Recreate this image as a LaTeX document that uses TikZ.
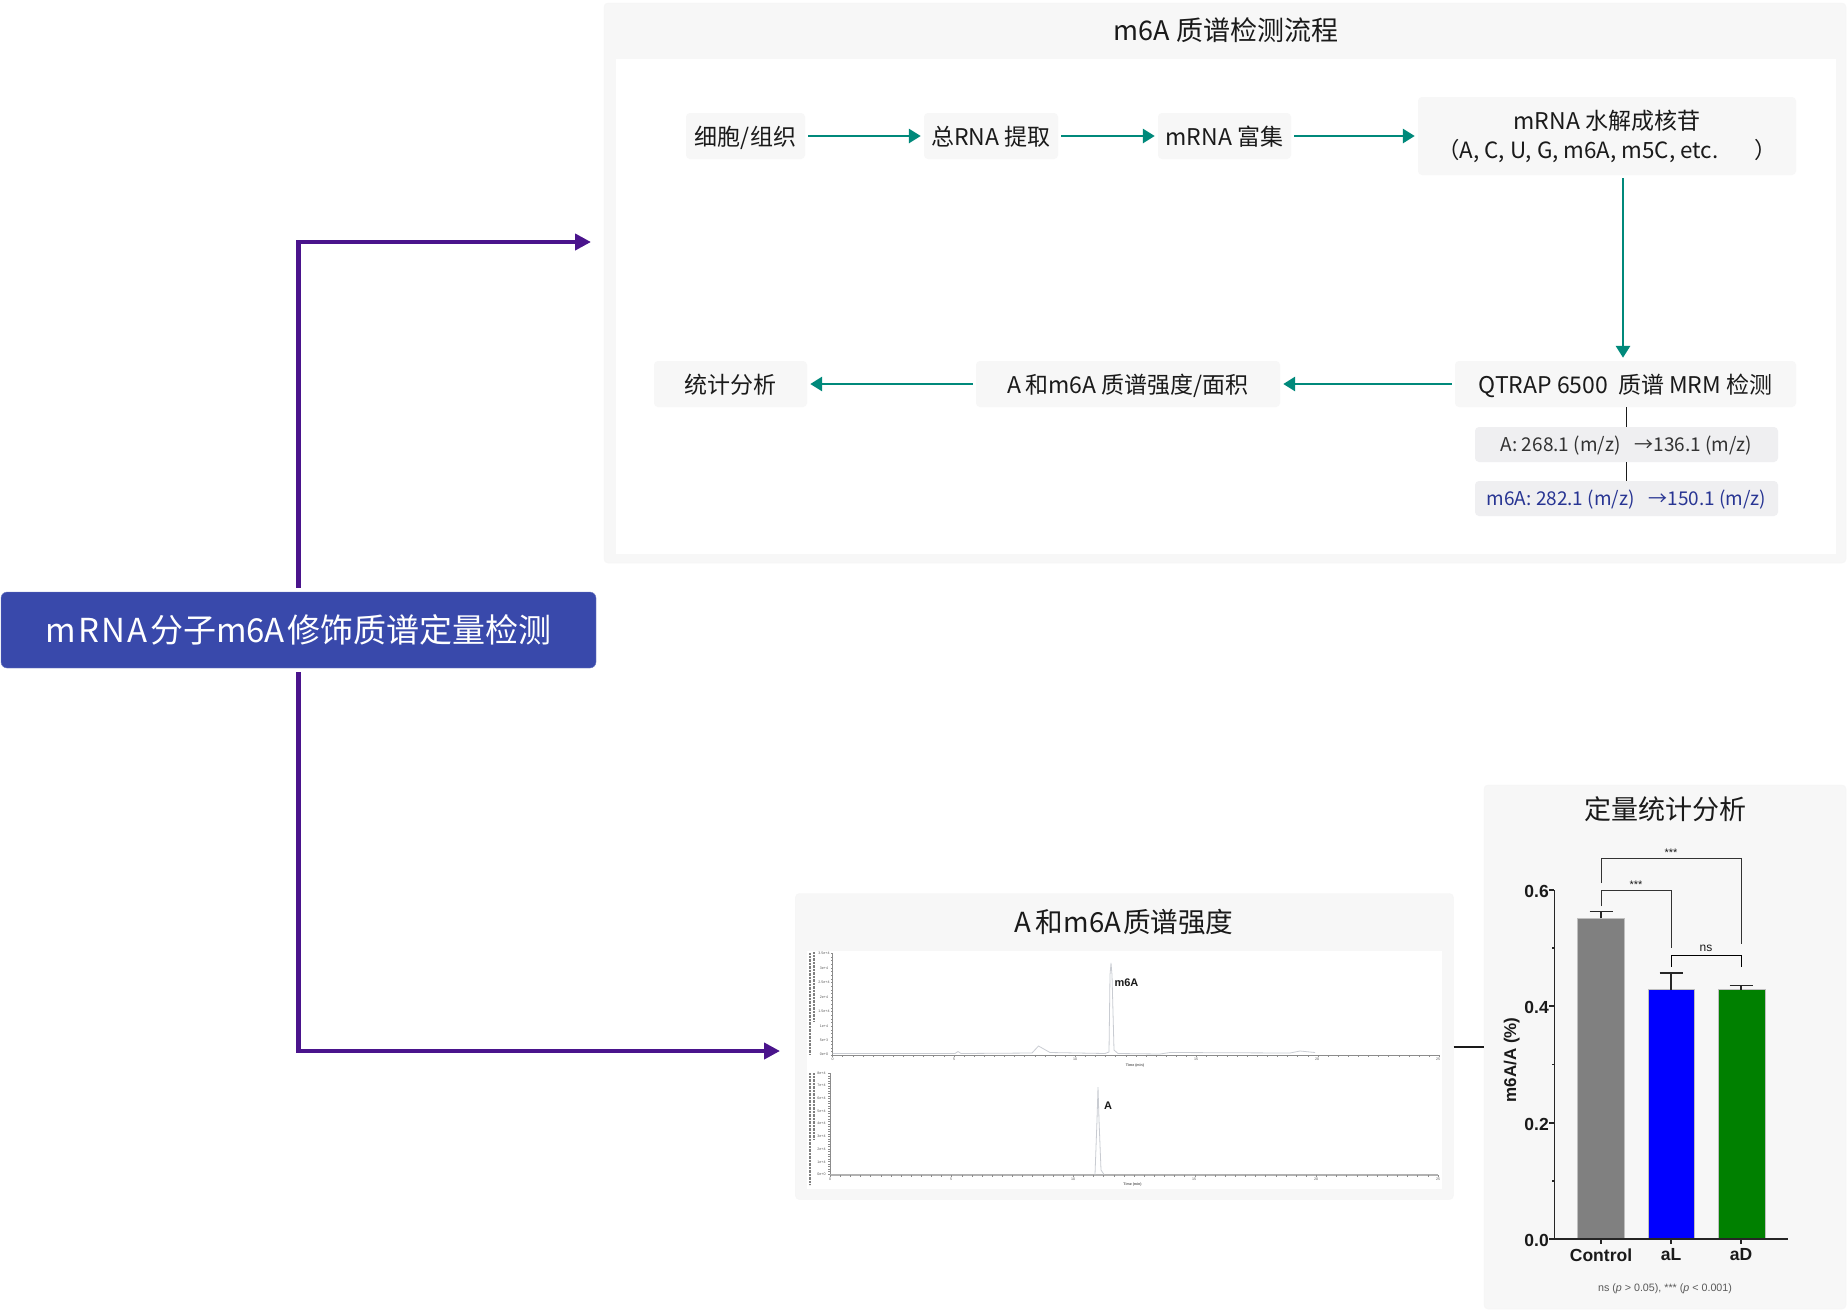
\documentclass[tikz,border=0pt]{standalone}
\usepackage{fontspec}
\usepackage{xcolor}
\setmainfont{Noto Sans CJK SC}
\newfontfamily\chartfont{Liberation Sans}
\usetikzlibrary{arrows.meta}
\definecolor{mpanel}{HTML}{F7F7F7}
\definecolor{mtag}{HTML}{EFEFF1}
\definecolor{mteal}{HTML}{00897B}
\definecolor{mpurple}{HTML}{4A148C}
\definecolor{mindigo}{HTML}{3949AB}
\definecolor{mnavy}{HTML}{283593}
\definecolor{vdarkgray}{HTML}{1a1a1a}
\definecolor{mtrace}{HTML}{C9CCD2}
\newcommand{\fsize}[1]{\fontsize{#1}{#1}\selectfont}
\tikzset{
	panelbox/.style={fill=mpanel, draw=black!4, rounded corners=4pt, minimum width=#1},
	whitebox/.style={fill=white, inner sep=0pt},
	flowbox/.style={fill=mpanel, rounded corners=4pt, text=vdarkgray, font=\fsize{23}, inner sep=0pt, minimum height=46pt},
	flowline/.style={flowbox, text height=21.5pt, text depth=3.5pt},
	tagbox/.style={fill=mtag, rounded corners=4pt, font=\fsize{19}, inner sep=0pt, minimum width=303pt, minimum height=35pt, text height=17pt, text depth=3pt},
	flowarrow/.style={color=mteal, line width=2.9pt, shorten >=3pt, shorten <=3pt, -{Triangle[length=12pt,width=14pt]}},
	mainarrow/.style={color=mpurple, line width=4.4pt, shorten <=4pt, -{Triangle[length=16pt,width=16pt]}},
	titletext/.style={text=vdarkgray, font=\fsize{27}, inner sep=0pt},
	ticktext/.style={text=black!65, font=\chartfont\fsize{3.6}, inner sep=0pt},
	peaktext/.style={text=vdarkgray, font=\chartfont\bfseries\fsize{11}, inner sep=0pt},
	trace/.style={color=mtrace, line width=.8pt},
	plotaxis/.style={color=black!45, line width=.5pt},
	blurline/.style={color=black!50, line width=1.1pt, dash pattern=on 1pt off .4pt},
	axistext/.style={text=vdarkgray, font=\chartfont\bfseries\fsize{17.5}, inner sep=0pt},
	axisline/.style={color=black!85, line width=1.2pt},
	bracket/.style={color=black!80, line width=1pt},
	startext/.style={text=vdarkgray, font=\chartfont\fsize{11}, inner sep=0pt},
	barbox/.style={draw=black!25, line width=.5pt, fill=#1},
}
\begin{document}
\begin{tikzpicture}[x=1pt, y=-1pt]
	\useasboundingbox (0,0) rectangle (1848,1312);
	\fill[white] (0,0) rectangle (1848,1312);

	\node[panelbox=1242pt, minimum height=560pt, inner sep=0pt] (flowpanel) at (1225,283) {};
	\node[whitebox, minimum width=1220pt, minimum height=495pt] (flowinner) at (1226,306.5) {};
	\node[titletext] (flowtitle) at (1226,30) {m6A\kern1pt\ 质谱检测流程};

	\node[flowline, minimum width=119pt] (cell) at (745.5,136) {细胞/组织};
	\node[flowline, minimum width=134pt] (rna) at (991,136) {总RNA 提取};
	\node[flowline, minimum width=133pt] (enrich) at (1224.5,136) {mRNA 富集};
	\node[flowbox, minimum width=378pt, minimum height=78pt, align=center] (hydro) at (1607,136) {mRNA 水解成核苷\\[6pt]{\fsize{22.4}（A, C, U, G, m6A, m5C, etc.\hspace{36pt}）}};
	\node[flowline, minimum width=341pt] (qtrap) at (1625.5,384) {QTRAP 6500\hspace{10pt}质谱 MRM 检测};
	\node[flowline, minimum width=304pt] (area) at (1128,384) {A\,和m6A 质谱强度/面积};
	\node[flowline, minimum width=153pt] (stats) at (730.5,384) {统计分析};
	\node[tagbox, text=black!80] (tagA) at (1626.5,444.5) {A: 268.1 (m/z)\hspace{14pt}→136.1 (m/z)};
	\node[tagbox, text=mnavy] (tagm) at (1626.5,498.5) {m6A: 282.1 (m/z)\hspace{14pt}→150.1 (m/z)};
	\coordinate (downx) at (1623,270);

	\draw[flowarrow] (cell) -- (rna);
	\draw[flowarrow] (rna) -- (enrich);
	\draw[flowarrow] (enrich) -- (hydro);
	\draw[flowarrow] (hydro.south -| downx) -- (qtrap.north -| downx);
	\draw[flowarrow] (qtrap) -- (area);
	\draw[flowarrow] (area) -- (stats);
	\draw[color=vdarkgray, line width=1pt] (qtrap.south -| tagA) -- (tagA);
	\draw[color=vdarkgray, line width=1pt] (tagA) -- (tagm);

	\node[fill=mindigo, draw=mindigo!70, rounded corners=6pt, minimum width=595pt, minimum height=76pt, inner sep=0pt, text=white, font=\fsize{33}] (main) at (298.5,630) {m\kern2.2pt R\kern2.2pt N\kern2.2pt A\kern2.2pt 分子m6A\kern2.2pt 修饰质谱定量检测};
	\coordinate (toptip) at (591,242);
	\coordinate (lowtip) at (780,1051);
	\draw[mainarrow] (main.north) |- (toptip);
	\draw[mainarrow] (main.south) |- (lowtip);

	\node[panelbox=658pt, minimum height=306pt, inner sep=0pt] (chrompanel) at (1124.4,1046.5) {};
	\node[whitebox, minimum width=635pt, minimum height=238pt] (chrominner) at (1124.5,1070) {};
	\node[titletext, font=\fsize{27.6}] (chromtitle) at (1124,922.5) {A\,和m6A\kern2pt 质谱强度};

	\draw[plotaxis] (832.5,953) -- (832.5,1055) -- (1439,1055);
	\foreach \tick in {0,...,60}
		\draw[plotaxis, line width=.3pt] ({832.5+\tick*10.11},1055) -- ++(0,1.6);
	\foreach \tick in {0,...,28}
		\draw[plotaxis, line width=.3pt] (832.5,{953.3+\tick*3.64}) -- ++(-1.6,0);
	\foreach \tx/\tl in {832.5/0, 954/5, 1075/10, 1196/15, 1317/20, 1438/25}
		\node[ticktext] at (\tx,1059.5) {\tl};
	\foreach \ty/\tl in {953.3/3.5e+4, 968/3e+4, 982.7/2.5e+4, 997/2e+4, 1011.7/1.5e+4, 1026/1e+4, 1040.7/5e+3, 1054.7/0e+0}
		\node[ticktext] at (824,\ty) {\tl};
	\draw[trace] (832.5,1053.5) -- (955,1053.5) -- (958,1051.5) -- (961,1053.5) -- (1032,1053) -- (1038.5,1046) -- (1050,1052.5) -- (1105,1053.5) -- (1109,1052) -- (1110,975) -- (1111,963) -- (1112,975) -- (1114,1050) -- (1118,1053.5) -- (1160,1054) -- (1170,1052.5) -- (1290,1053) -- (1300,1051) -- (1315,1052.5);
	\node[peaktext] (m6apeak) at (1126.5,983) {m6A};
	\node[ticktext, font=\chartfont\bfseries\fsize{3.6}] (topxlabel) at (1135,1065.5) {Time (min)};
	\draw[blurline] (810,953) -- (810,1055);
	\draw[blurline] (814,952) -- (814,1021);

	\draw[plotaxis] (830,1073) -- (830,1175);
	\draw[color=black!30, line width=1.2pt] (830,1175) -- (1438,1175);
	\foreach \tick in {0,...,60}
		\draw[plotaxis, line width=.3pt] ({830+\tick*10.13},1175) -- ++(0,1.6);
	\foreach \tick in {0,...,40}
		\draw[plotaxis, line width=.3pt] (830,{1073.3+\tick*2.52}) -- ++(-1.6,0);
	\foreach \tx/\tl in {830/0, 951/5, 1073/10, 1194/15, 1316/20, 1438/25}
		\node[ticktext] at (\tx,1179.5) {\tl};
	\foreach \ty/\tl in {1073.3/8e+4, 1085.7/7e+4, 1098.3/6e+4, 1111.3/5e+4, 1123.7/4e+4, 1136.3/3e+4, 1149.3/2e+4, 1162/1e+4, 1174.3/0e+0}
		\node[ticktext] at (821.5,\ty) {\tl};
	\draw[trace] (1095,1174.5) -- (1097,1120) -- (1098,1087) -- (1099,1120) -- (1101,1170) -- (1104,1174.5);
	\node[peaktext] (apeak) at (1108,1106) {A};
	\node[ticktext, font=\chartfont\bfseries\fsize{3.6}] (lowxlabel) at (1132.5,1185) {Time (min)};
	\draw[blurline] (810,1073) -- (810,1185);
	\draw[blurline] (814,1073) -- (814,1140);

	\node[panelbox=362pt, minimum height=524pt, inner sep=0pt] (barpanel) at (1665,1047) {};
	\node[titletext] (bartitle) at (1665,809) {定量统计分析};
	\draw[color=vdarkgray, line width=1.8pt] (chrompanel.east |- 0,1047) -- (barpanel.west |- 0,1047);

	\draw[barbox=black!50] (1577.7,918.4) rectangle (1624.3,1239);
	\draw[barbox=blue] (1648,989.7) rectangle (1694.7,1239);
	\draw[barbox={green!50!black}] (1718,989.7) rectangle (1765,1239);
	\draw[axisline] (1601,918.4) -- (1601,911.7) (1589.5,911.7) -- (1612.5,911.7);
	\draw[axisline] (1671,989.7) -- (1671,973) (1659.5,973) -- (1682.5,973);
	\draw[axisline] (1741,989.7) -- (1741,985.6) (1729.5,985.6) -- (1752.5,985.6);

	\draw[axisline, line width=1.4pt] (1554.3,890) -- (1554.3,1239) -- (1788,1239);
	\foreach \ty/\tl in {890/0.6, 1006/0.4, 1123/0.2, 1239/0.0}{
		\draw[axisline] (1549,\ty) -- (1554.3,\ty);
		\node[axistext, anchor=east] at (1549,\ty+1) {\tl};
	}
	\foreach \ty in {948, 1064.5, 1181}
		\draw[axisline] (1552,\ty) -- (1554.3,\ty);
	\foreach \tx/\tl in {1601/Control, 1671/aL, 1741/aD}{
		\draw[axisline] (\tx,1239) -- (\tx,1244);
		\node[axistext] at (\tx,1255) {\tl};
	}
	\node[axistext, font=\chartfont\bfseries\fsize{17}, rotate=90] (barylabel) at (1511.7,1060) {m6A/A (\%)};

	\draw[bracket] (1601,883) -- (1601,858) -- (1741,858) -- (1741,943.6);
	\draw[bracket] (1601,906) -- (1601,890) -- (1671,890) -- (1671,948);
	\draw[bracket, color=black] (1671,966.6) -- (1671,955.4) -- (1741,955.4) -- (1741,966.6);
	\node[startext] (starbig) at (1671,853) {***};
	\node[startext] (starsmall) at (1636,884.5) {***};
	\node[startext, font=\chartfont\fsize{12}] (nstext) at (1706,948) {ns};
	\node[text=black!65, font=\chartfont\fsize{10.7}, inner sep=0pt] (barnote) at (1665,1289) {ns (\textit{p} > 0.05), *** (\textit{p} < 0.001)};
\end{tikzpicture}
\end{document}
